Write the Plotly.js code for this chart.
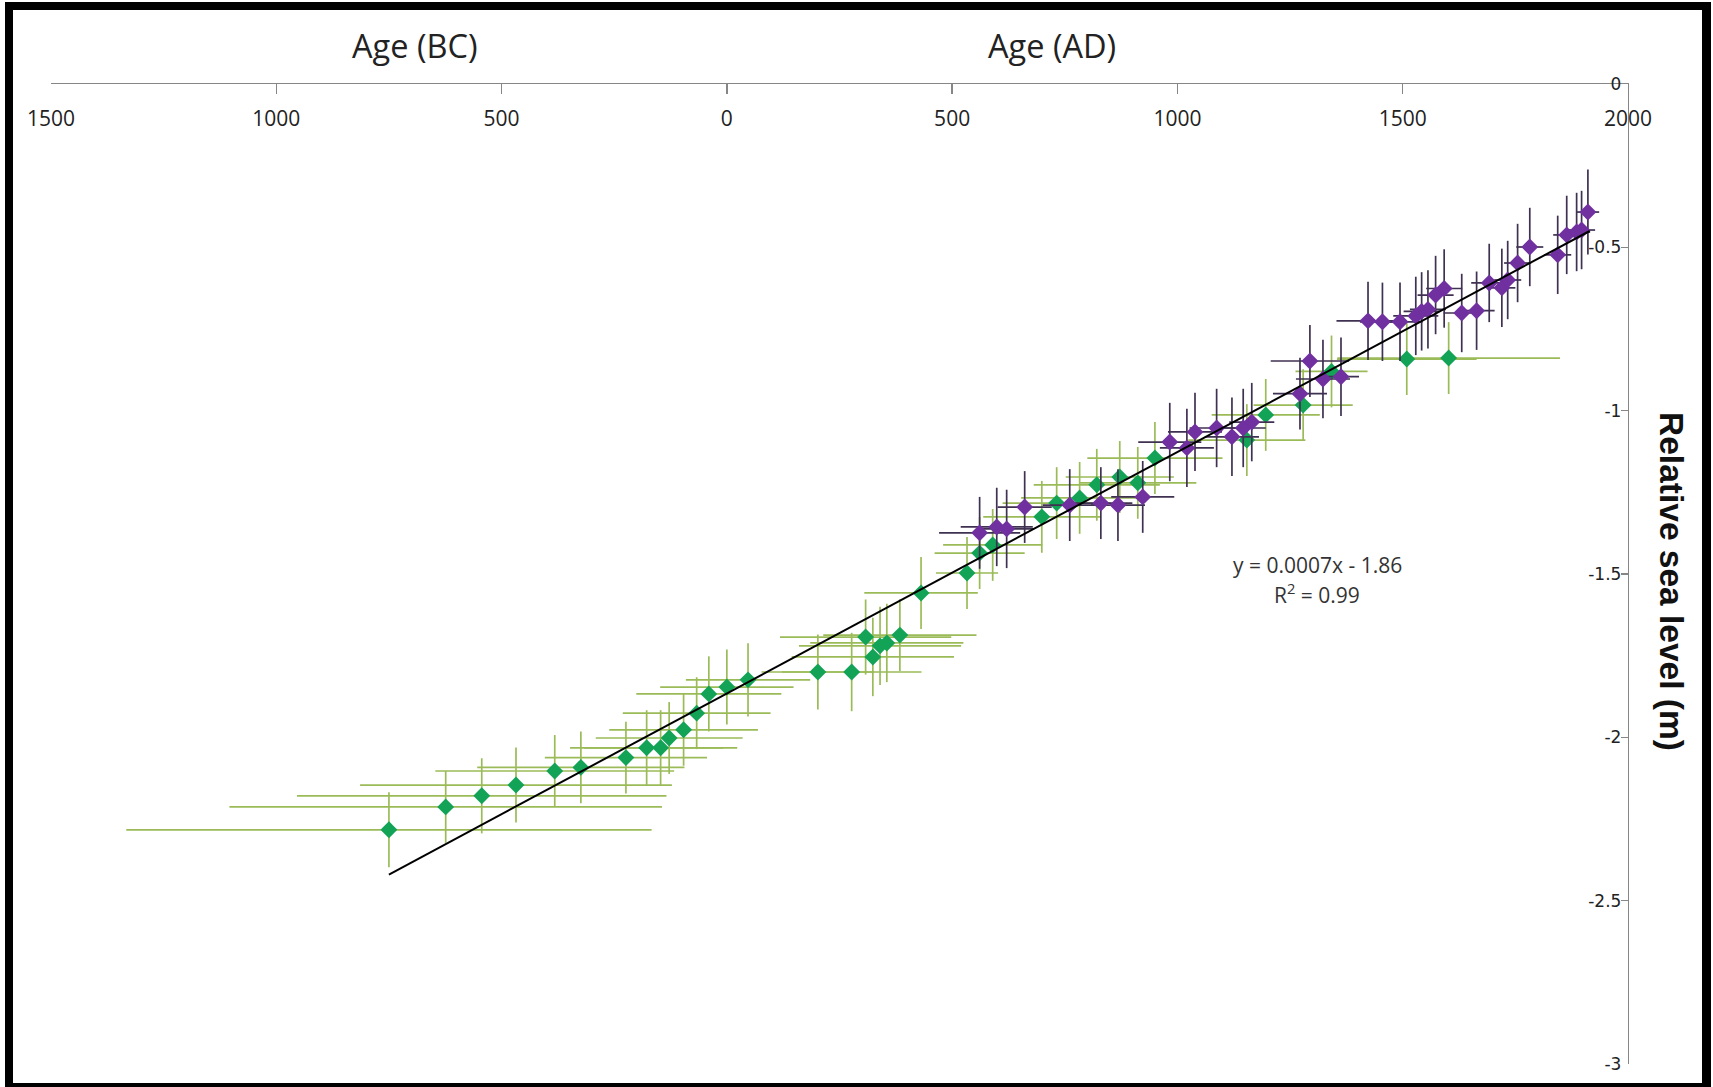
<!DOCTYPE html>
<html>
<head>
<meta charset="utf-8">
<script src="https://cdn.plot.ly/plotly-3.0.1.min.js"></script>
<style>
  html, body { margin: 0; padding: 0; background: #fff; }
  #wrap { position: relative; width: 1713px; height: 1087px; overflow: hidden; }
  #chart { position: absolute; left: 0; top: 0; width: 1713px; height: 1087px; }
  #frame { position: absolute; left: 5px; top: 2px; width: 1706px; height: 1085px; box-sizing: border-box;
           border-style: solid; border-color: #000; border-width: 8px 9px 4px 8px; pointer-events: none; }
</style>
</head>
<body>
<div id="wrap">
  <div id="chart"></div>
  <div id="frame"></div>
</div>
<script>
// Green series (age in years, negative = BC; relative sea level in m)
const greenAge = [-750, -624, -544, -468, -382, -324, -224, -178, -147, -128, -96, -67, -40, 0, 47,
  202, 277, 308, 324, 340, 355, 384, 431, 533, 561, 590, 699, 732, 783, 821, 872, 912, 950,
  1154, 1196, 1279, 1342, 1509, 1602];
const greenRSL = [-2.283, -2.213, -2.179, -2.146, -2.103, -2.092, -2.062, -2.032, -2.032, -2.002, -1.977, -1.926, -1.867, -1.846, -1.824,
  -1.800, -1.800, -1.693, -1.754, -1.720, -1.711, -1.687, -1.558, -1.497, -1.436, -1.411, -1.325, -1.283, -1.267, -1.227, -1.203, -1.221, -1.145,
  -1.090, -1.013, -0.983, -0.880, -0.842, -0.839];
const greenAgeErr = [583, 480, 410, 346, 265, 230, 180, 170, 170, 163, 165, 164, 161, 148, 138,
  125, 155, 190, 180, 180, 170, 170, 126, 69, 100, 110, 130, 120, 130, 140, 120, 130, 150,
  130, 120, 110, 80, 155, 247];
const greenRSLErr = [0.115, 0.11, 0.115, 0.115, 0.11, 0.11, 0.11, 0.115, 0.115, 0.11, 0.11, 0.11, 0.115, 0.115, 0.112,
  0.115, 0.12, 0.115, 0.12, 0.12, 0.12, 0.11, 0.11, 0.11, 0.11, 0.11, 0.11, 0.11, 0.11, 0.11, 0.11, 0.11, 0.11,
  0.11, 0.11, 0.11, 0.11, 0.11, 0.11];

// Purple series
const purpleAge = [561, 599, 621, 661, 761, 830, 868, 923, 983, 1021, 1039, 1087, 1121, 1146, 1165,
  1272, 1294, 1323, 1363, 1423, 1455, 1494, 1529, 1542, 1556, 1573, 1592, 1631, 1664, 1692, 1720, 1733,
  1755, 1782, 1844, 1864, 1886, 1897, 1911];
const purpleRSL = [-1.374, -1.356, -1.362, -1.295, -1.289, -1.283, -1.289, -1.264, -1.096, -1.114, -1.065, -1.053, -1.080, -1.053, -1.035,
  -0.948, -0.848, -0.903, -0.896, -0.725, -0.728, -0.728, -0.710, -0.696, -0.690, -0.646, -0.626, -0.701, -0.694, -0.609, -0.624, -0.600,
  -0.548, -0.499, -0.523, -0.462, -0.453, -0.447, -0.392];
const purpleAgeErr = [90, 80, 60, 60, 60, 70, 60, 70, 70, 60, 60, 60, 60, 50, 50,
  60, 87, 60, 40, 70, 50, 50, 50, 40, 40, 40, 40, 40, 40, 40, 30, 30,
  30, 30, 30, 30, 30, 30, 25];
const purpleRSLErr = [0.11, 0.12, 0.12, 0.11, 0.11, 0.11, 0.11, 0.11, 0.12, 0.12, 0.12, 0.12, 0.12, 0.12, 0.12,
  0.11, 0.11, 0.12, 0.12, 0.12, 0.12, 0.12, 0.12, 0.12, 0.12, 0.12, 0.12, 0.12, 0.12, 0.12, 0.12, 0.12,
  0.12, 0.12, 0.12, 0.12, 0.12, 0.12, 0.13];

// Linear trendline end points
const trendAge = [-750, 1915];
const trendRSL = [-2.42, -0.45];

// Axis ticks
const xTickVals = [-1500, -1000, -500, 0, 500, 1000, 1500, 2000];
const xTickText = ['1500', '1000', '500', '0', '500', '1000', '1500', '2000'];
const yTickVals = [0, -0.5, -1, -1.5, -2, -2.5, -3];
const yTickText = ['0', '-0.5', '-1', '-1.5', '-2', '-2.5', '-3'];

const green = {
  x: greenAge, y: greenRSL, type: 'scatter', mode: 'markers',
  marker: { symbol: 'diamond', size: 13, color: '#13a356' },
  error_x: { type: 'data', array: greenAgeErr, color: '#9bbb59', thickness: 1.7, width: 0 },
  error_y: { type: 'data', array: greenRSLErr, color: '#9bbb59', thickness: 1.7, width: 0 },
  hoverinfo: 'x+y', showlegend: false
};
const purple = {
  x: purpleAge, y: purpleRSL, type: 'scatter', mode: 'markers',
  marker: { symbol: 'diamond', size: 13, color: '#7030a0' },
  error_x: { type: 'data', array: purpleAgeErr, color: '#3f3151', thickness: 1.7, width: 0 },
  error_y: { type: 'data', array: purpleRSLErr, color: '#3f3151', thickness: 1.7, width: 0 },
  hoverinfo: 'x+y', showlegend: false
};
const trend = {
  x: trendAge, y: trendRSL, type: 'scatter', mode: 'lines',
  line: { color: '#000', width: 2 }, hoverinfo: 'skip', showlegend: false
};

const layout = {
  width: 1713, height: 1087,
  margin: { l: 51, r: 85, t: 84, b: 23 },
  paper_bgcolor: '#fff', plot_bgcolor: '#fff',
  font: { family: 'Open Sans, sans-serif', color: '#222' },
  xaxis: {
    side: 'top', range: [-1500, 2000], tickvals: xTickVals, ticktext: xTickText,
    ticks: 'inside', ticklen: 10, tickcolor: '#868686', tickwidth: 1.3,
    showline: true, linecolor: '#868686', linewidth: 1.3,
    ticklabelposition: 'inside', ticklabelstandoff: 19, ticklabeloverflow: 'allow',
    tickfont: { family: 'Open Sans, sans-serif', size: 21, color: '#222' },
    showgrid: false, zeroline: false, fixedrange: true
  },
  yaxis: {
    side: 'right', range: [-3, 0], tickvals: yTickVals, ticktext: yTickText,
    ticks: 'inside', ticklen: 7, tickcolor: '#868686', tickwidth: 1.3,
    showline: true, linecolor: '#868686', linewidth: 1.3,
    ticklabelposition: 'inside', ticklabeloverflow: 'allow',
    tickfont: { family: 'DejaVu Sans, sans-serif', size: 17, color: '#222' },
    showgrid: false, zeroline: false, fixedrange: true
  },
  annotations: [
    { text: 'Age (BC)', xref: 'paper', yref: 'paper', x: 0.2308, y: 1.0388, showarrow: false,
      xanchor: 'center', yanchor: 'middle', font: { family: 'Open Sans, sans-serif', size: 32.5, color: '#222' } },
    { text: 'Age (AD)', xref: 'paper', yref: 'paper', x: 0.6347, y: 1.0388, showarrow: false,
      xanchor: 'center', yanchor: 'middle', font: { family: 'Open Sans, sans-serif', size: 32.5, color: '#222' } },
    { text: 'Relative sea level (m)', xref: 'paper', yref: 'paper', x: 1.0279, y: 0.4918, showarrow: false,
      textangle: 90, xanchor: 'center', yanchor: 'middle',
      font: { family: 'Liberation Sans, Arial, sans-serif', size: 33.5, color: '#111', weight: 'bold' } },
    { text: 'y = 0.0007x - 1.86', xref: 'paper', yref: 'paper', x: 0.8028, y: 0.509, showarrow: false,
      xanchor: 'center', yanchor: 'middle', font: { family: 'Open Sans, sans-serif', size: 21, color: '#333' } },
    { text: 'R<sup>2</sup> = 0.99', xref: 'paper', yref: 'paper', x: 0.8028, y: 0.4806, showarrow: false,
      xanchor: 'center', yanchor: 'middle', font: { family: 'Open Sans, sans-serif', size: 21, color: '#333' } }
  ]
};

Plotly.newPlot('chart', [green, purple, trend], layout, { displayModeBar: false, staticPlot: true });
</script>
</body>
</html>
